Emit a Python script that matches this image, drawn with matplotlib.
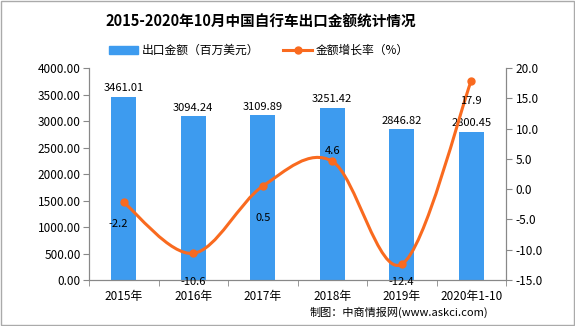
import matplotlib.pyplot as plt
import numpy as np
from matplotlib.path import Path
from matplotlib.patches import PathPatch, Rectangle
from matplotlib.lines import Line2D

plt.rcParams['font.family'] = ['Noto Sans CJK SC', 'DejaVu Sans']

categories = ['2015年', '2016年', '2017年', '2018年', '2019年', '2020年1-10']
export_value = [3461.01, 3094.24, 3109.89, 3251.42, 2846.82, 2800.45]
growth_rate = [-2.2, -10.6, 0.5, 4.6, -12.4, 17.9]

BAR_COLOR = '#3d9bef'
LINE_COLOR = '#f96a1f'
GRAY = '#888888'

fig = plt.figure(figsize=(5.75, 3.26), dpi=100)
ax = fig.add_axes([0.1548, 0.1411, 0.7252, 0.6503])
ax2 = ax.twinx()

x = np.arange(len(categories))
ax.bar(x, export_value, width=0.36, color=BAR_COLOR, zorder=2)
for xi, v in zip(x, export_value):
    ax.text(xi, v + 60, f'{v:.2f}', ha='center', va='bottom', fontsize=8)

ax.set_xlim(-0.5, len(categories) - 0.5)
ax.set_ylim(0, 4000)
ax.set_yticks(np.arange(0, 4001, 500))
ax.set_yticklabels([f'{t:.2f}' for t in np.arange(0, 4001, 500)], fontsize=8.5)
ax.set_xticks(x)
ax.set_xticklabels(categories, fontsize=8.5)
ax.set_xticks(np.arange(-0.5, len(categories)), minor=True)
ax.tick_params(axis='x', which='major', length=0, pad=7)
ax.tick_params(axis='x', which='minor', length=4, color=GRAY)
ax.tick_params(axis='y', length=4, color=GRAY, pad=2)

# smooth line through the points (cardinal spline drawn as bezier path)
pts = np.column_stack([x, growth_rate]).astype(float)
verts = [tuple(pts[0])]
codes = [Path.MOVETO]
n = len(pts)
for i in range(n - 1):
    p0 = pts[max(i - 1, 0)]
    p1 = pts[i]
    p2 = pts[i + 1]
    p3 = pts[min(i + 2, n - 1)]
    c1 = p1 + (p2 - p0) / 6.0
    c2 = p2 - (p3 - p1) / 6.0
    verts += [tuple(c1), tuple(c2), tuple(p2)]
    codes += [Path.CURVE4] * 3
ax2.add_patch(PathPatch(Path(verts, codes), facecolor='none', edgecolor=LINE_COLOR,
                        lw=2.2, zorder=3))
ax2.plot(x, growth_rate, 'o', color=LINE_COLOR, markersize=5, zorder=4)

# label offsets from each point, in pixels
label_offsets = [(-6, -22), (0, -29), (0, -32), (0, 10), (0, -18), (0, -20)]
for xi, v, off in zip(x, growth_rate, label_offsets):
    ax2.annotate(f'{v:.1f}', (xi, v), xytext=off, textcoords='offset pixels',
                 ha='center', va='center', fontsize=8, zorder=5, annotation_clip=False)

ax2.set_ylim(-15, 20)
ax2.set_yticks(np.arange(-15, 21, 5))
ax2.set_yticklabels([f'{t:.1f}' for t in np.arange(-15, 21, 5)], fontsize=8.5)
ax2.tick_params(axis='y', length=4, color=GRAY, pad=3)

for a in (ax, ax2):
    a.spines['top'].set_visible(False)
    for side in ('left', 'right', 'bottom'):
        a.spines[side].set_color(GRAY)

fig.text(0.454, 0.935, '2015-2020年10月中国自行车出口金额统计情况', ha='center', va='center',
         fontsize=10.5, fontweight='bold')

handles = [Rectangle((0, 0), 1, 1, color=BAR_COLOR),
           Line2D([0], [0], color=LINE_COLOR, lw=2.2, marker='o', markersize=5)]
fig.legend(handles, ['出口金额（百万美元）', '金额增长率（%）'], loc='center',
           bbox_to_anchor=(0.45, 0.845), ncol=2, frameon=False, fontsize=8.5,
           handlelength=2.5, columnspacing=2.0, handletextpad=0.3)

fig.text(0.849, 0.043, '制图：中商情报网(www.askci.com)', ha='right', va='center', fontsize=8)

fig.patches.append(Rectangle((0.001, 0.002), 0.997, 0.995, transform=fig.transFigure,
                             fill=False, edgecolor='#aaaaaa', lw=1))

fig.savefig('out.png', dpi=100)
